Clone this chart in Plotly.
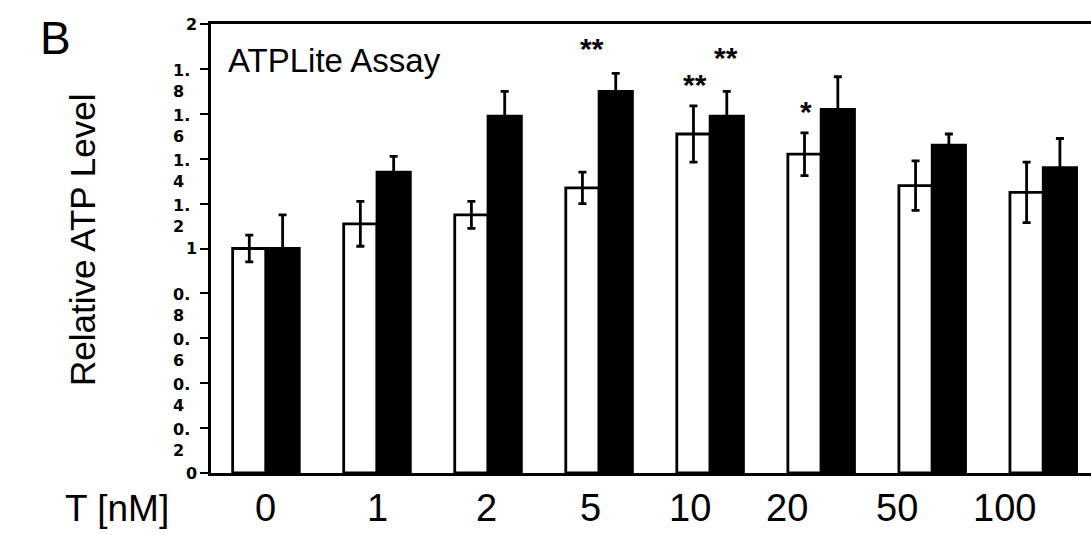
import plotly.graph_objects as go

# ---- data ----
categories = ["0", "1", "2", "5", "10", "20", "50", "100"]
white_vals = [1.00, 1.11, 1.15, 1.27, 1.51, 1.42, 1.28, 1.25]
white_err = [0.06, 0.10, 0.06, 0.07, 0.125, 0.095, 0.11, 0.135]
black_vals = [1.00, 1.34, 1.59, 1.70, 1.59, 1.62, 1.46, 1.36]
black_err = [0.15, 0.07, 0.11, 0.08, 0.11, 0.145, 0.05, 0.13]
y_tick_vals = [0, 0.2, 0.4, 0.6, 0.8, 1, 1.2, 1.4, 1.6, 1.8, 2]
y_tick_text = ["0", "0.<br>2", "0.<br>4", "0.<br>6", "0.<br>8", "1",
               "1.<br>2", "1.<br>4", "1.<br>6", "1.<br>8", "2"]
stars = [("**", 3, 1.89), ("**", 4, 1.73), ("**", 4, 1.85), ("*", 5, 1.61)]

# ---- layout geometry (pixels) ----
W, H = 1091, 535
ML, MR, MT, MB = 211, 0, 24, 62
PW, PH = W - ML - MR, H - MT - MB

def px(xp):
    return (xp - ML) / PW

def py(yp):
    return (H - MB - yp) / PH

FONT = "Liberation Sans, Arial, sans-serif"
TICKFONT = "DejaVu Sans, Liberation Sans, Arial, sans-serif"

label_px = [265, 377, 486, 590, 690, 787, 897, 1004]  # centres of the typed x labels
star_dx = [-0.06, -0.14, 0.14, -0.14]

fig = go.Figure()
fig.add_trace(go.Bar(
    x=categories, y=white_vals,
    marker=dict(color="white", line=dict(color="black", width=2.8)),
    error_y=dict(type="data", array=white_err, color="black", thickness=2.8, width=4),
    showlegend=False,
))
fig.add_trace(go.Bar(
    x=categories, y=black_vals,
    marker=dict(color="black", line=dict(color="black", width=2.8)),
    error_y=dict(type="data", array=black_err, color="black", thickness=2.8, width=4),
    showlegend=False,
))

tick_font = dict(family=TICKFONT, size=16, color="black", weight="bold")
ann = []
# y tick labels
for v, t in zip(y_tick_vals, y_tick_text):
    if "<br>" in t:
        ann.append(dict(xref="paper", yref="y", x=px(171), y=v, text=t, showarrow=False,
                        xanchor="left", yanchor="top", align="left", yshift=10,
                        font=tick_font))
    else:
        ann.append(dict(xref="paper", yref="y", x=px(199), y=v, text=t, showarrow=False,
                        xanchor="right", yanchor="middle", font=tick_font))
# x labels
for lp, c in zip(label_px, categories):
    ann.append(dict(xref="paper", yref="paper", x=px(lp), y=py(508), text=c, showarrow=False,
                    xanchor="center", yanchor="middle",
                    font=dict(family=FONT, size=38, color="black")))
ann.append(dict(xref="paper", yref="paper", x=px(117), y=py(508), text="T [nM]", showarrow=False,
                xanchor="center", yanchor="middle",
                font=dict(family=FONT, size=37, color="black")))
# stars
for (s, gi, yv), dx in zip(stars, star_dx):
    ann.append(dict(xref="x", yref="y", x=gi + dx, y=yv, text=s, showarrow=False,
                    xanchor="center", yanchor="middle",
                    font=dict(family=FONT, size=30, color="black", weight="bold")))
# titles
ann.append(dict(xref="paper", yref="paper", x=px(82), y=py(240), text="Relative ATP Level",
                showarrow=False, textangle=-90, xanchor="center", yanchor="middle",
                font=dict(family=FONT, size=35, color="black")))
ann.append(dict(xref="paper", yref="paper", x=px(226), y=py(60), text="ATPLite Assay",
                showarrow=False, xanchor="left", yanchor="middle",
                font=dict(family=FONT, size=33, color="black")))
ann.append(dict(xref="paper", yref="paper", x=px(55), y=py(38), text="B",
                showarrow=False, xanchor="center", yanchor="middle",
                font=dict(family=FONT, size=46, color="black")))

fig.update_layout(
    width=W, height=H,
    margin=dict(l=ML, r=MR, t=MT, b=MB, pad=0),
    paper_bgcolor="white", plot_bgcolor="white",
    barmode="group", bargap=0.4, bargroupgap=0,
    annotations=ann,
    xaxis=dict(type="category", range=[-0.495, 7.43], showticklabels=False, ticks="",
               showline=True, linecolor="black", linewidth=2.5, mirror=True,
               showgrid=False, zeroline=False),
    yaxis=dict(range=[0, 2], tickvals=y_tick_vals, showticklabels=False,
               ticks="outside", ticklen=8, tickwidth=2, tickcolor="black",
               showline=True, linecolor="black", linewidth=2.5, mirror=False,
               showgrid=False, zeroline=False),
)

fig.write_html("out.html")
